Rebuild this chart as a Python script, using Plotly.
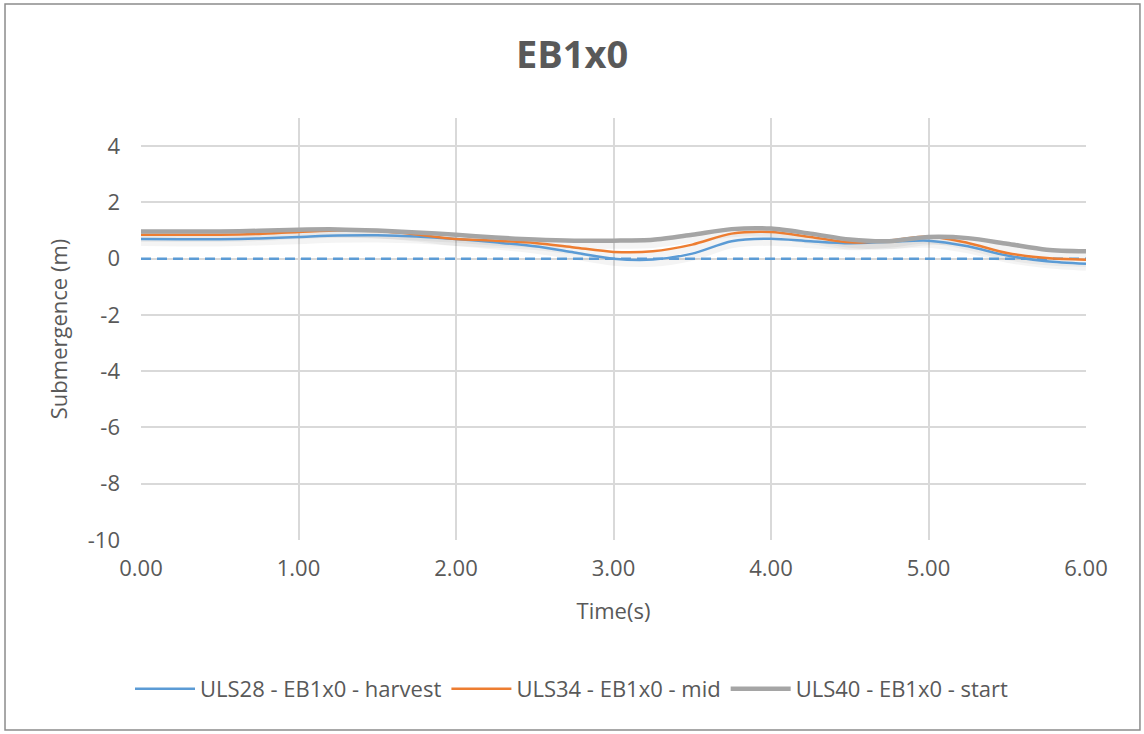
import plotly.graph_objects as go

# Time samples (s)
time_s = [0.00, 0.25, 0.50, 0.75, 1.00, 1.25, 1.50, 1.75, 2.00, 2.25, 2.50, 2.75,
          3.00, 3.25, 3.50, 3.75, 4.00, 4.25, 4.50, 4.75, 5.00, 5.25, 5.50, 5.75, 6.00]

# Submergence (m) per load case
uls28_harvest = [0.70, 0.69, 0.69, 0.72, 0.77, 0.82, 0.83, 0.79, 0.70, 0.58, 0.44, 0.22,
                 0.00, -0.03, 0.18, 0.62, 0.71, 0.62, 0.55, 0.60, 0.64, 0.44, 0.11, -0.09, -0.18]
uls34_mid = [0.85, 0.85, 0.85, 0.88, 0.95, 1.00, 0.98, 0.86, 0.70, 0.64, 0.56, 0.40,
             0.24, 0.26, 0.50, 0.89, 0.95, 0.77, 0.58, 0.64, 0.79, 0.56, 0.20, 0.02, -0.04]
uls40_start = [0.97, 0.97, 0.97, 0.99, 1.03, 1.04, 1.00, 0.93, 0.85, 0.75, 0.68, 0.64,
               0.64, 0.67, 0.85, 1.05, 1.07, 0.89, 0.68, 0.62, 0.77, 0.73, 0.53, 0.32, 0.26]
reference_level = [0.0 for _ in time_s]

# Axis ticks
x_ticks = [0, 1, 2, 3, 4, 5, 6]
x_tick_text = ["0.00", "1.00", "2.00", "3.00", "4.00", "5.00", "6.00"]
y_ticks = [-10, -8, -6, -4, -2, 0, 2, 4]
y_tick_text = ["-10", "-8", "-6", "-4", "-2", "0", "2", "4"]

series = [
    ("ULS28 - EB1x0 - harvest", uls28_harvest, "#5B9BD5", 2.5),
    ("ULS34 - EB1x0 - mid", uls34_mid, "#ED7D31", 2.5),
    ("ULS40 - EB1x0 - start", uls40_start, "#A5A5A5", 4.5),
]

SHADOW_DROP = 0.12  # soft drop shadow offset below each line, in metres

fig = go.Figure()

# Soft drop shadows under the series lines
for _, vals, _, width in series:
    fig.add_trace(go.Scatter(
        x=time_s, y=[v - SHADOW_DROP for v in vals], mode="lines",
        showlegend=False, hoverinfo="skip",
        line=dict(color="rgba(0,0,0,0.045)", width=width + 5,
                  shape="spline", smoothing=0.8),
    ))

# Dashed zero level
fig.add_trace(go.Scatter(
    x=time_s, y=reference_level, mode="lines", showlegend=False,
    line=dict(color="#5B9BD5", width=2.5, dash="10px,6px"), hoverinfo="skip",
))

for name, vals, color, width in series:
    fig.add_trace(go.Scatter(
        x=time_s, y=vals, mode="lines", name=name,
        line=dict(color=color, width=width, shape="spline", smoothing=0.8),
    ))

font_family = "'Open Sans', sans-serif"
axis_font = dict(family=font_family, size=22, color="#595959")

fig.update_layout(
    width=1144, height=734,
    paper_bgcolor="white", plot_bgcolor="white",
    margin=dict(l=141, r=58, t=118, b=194, autoexpand=False),
    title=dict(text="<b>EB1x0</b>", x=0.5, xref="container", xanchor="center",
               y=1 - 55 / 734, yref="container", yanchor="middle",
               font=dict(family=font_family, size=38, color="#595959")),
    xaxis=dict(
        range=[0, 6], tickvals=x_ticks, ticktext=x_tick_text,
        showgrid=True, gridcolor="#D9D9D9", gridwidth=2,
        zeroline=False, showline=False, ticks="", ticklabelstandoff=13,
        tickfont=axis_font,
        title=dict(text="Time(s)", font=axis_font, standoff=22),
    ),
    yaxis=dict(
        range=[-10, 5], tickvals=y_ticks, ticktext=y_tick_text,
        showgrid=True, gridcolor="#D9D9D9", gridwidth=2,
        zeroline=False, showline=False, ticks="", ticklabelstandoff=20,
        tickfont=axis_font,
        title=dict(text="Submergence (m)", font=axis_font, standoff=14),
    ),
    legend=dict(
        orientation="h", x=0.5, xref="container", xanchor="center",
        y=-0.353, yanchor="middle",
        font=dict(family=font_family, size=22, color="#595959"),
        itemwidth=60,
    ),
    shapes=[dict(
        type="rect", xref="paper", yref="paper",
        x0=-0.1439, x1=1.0571, y0=-0.450, y1=1.270,
        line=dict(color="#8C8C8C", width=1.5), fillcolor="rgba(0,0,0,0)",
        layer="below",
    )],
)

fig.write_html("out.html")
